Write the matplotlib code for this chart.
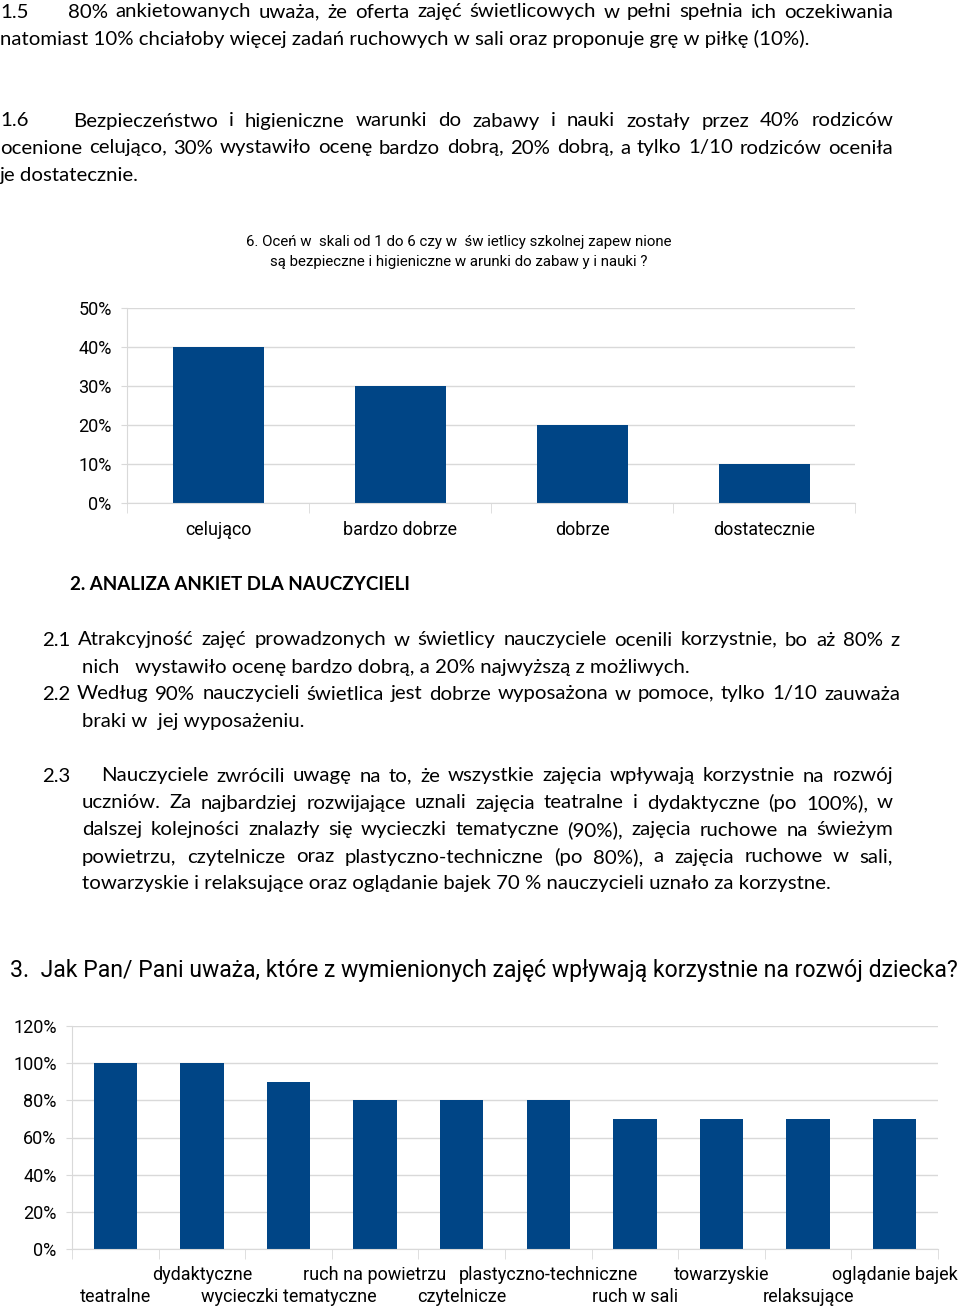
import matplotlib
matplotlib.use("agg")
import matplotlib.pyplot as plt
from matplotlib.ticker import FixedLocator

W, H = 960, 1307
BAR = "#004586"
GRID = "#d9d9d9"
CHART_FONT = ["Roboto", "DejaVu Sans"]
BODY_FONT = ["Lato", "DejaVu Sans"]

# question 6 (parents)
Q6_TITLE = ["6. Oceń w  skali od 1 do 6 czy w  św ietlicy szkolnej zapew nione",
            "są bezpieczne i higieniczne w arunki do zabaw y i nauki ?"]
Q6_CATS = ["celująco", "bardzo dobrze", "dobrze", "dostatecznie"]
Q6_VALUES = [40, 30, 20, 10]
Q6_TICKS = [0, 10, 20, 30, 40, 50]

# question 3 (teachers)
Q3_TITLE = "3.  Jak Pan/ Pani uważa, które z wymienionych zajęć wpływają korzystnie na rozwój dziecka?"
Q3_CATS = ["teatralne", "dydaktyczne", "wycieczki tematyczne", "ruch na powietrzu",
           "czytelnicze", "plastyczno-techniczne", "ruch w sali", "towarzyskie",
           "relaksujące", "oglądanie bajek"]
Q3_VALUES = [100, 100, 90, 80, 80, 80, 70, 70, 70, 70]
Q3_TICKS = [0, 20, 40, 60, 80, 100, 120]

# body text: (text, x start, y, x end for justified lines or None)
BODY = [
    ("1.5", 0, 12, None),
    ("80% ankietowanych uważa, że oferta zajęć świetlicowych w pełni spełnia ich oczekiwania", 68, 12, 893),
    ("natomiast 10% chciałoby więcej zadań ruchowych w sali oraz proponuje grę w piłkę (10%).", 0, 39, None),
    ("1.6", 0, 121, None),
    ("Bezpieczeństwo i higieniczne warunki do zabawy i nauki zostały przez 40% rodziców", 73, 121, 893),
    ("ocenione celująco, 30% wystawiło ocenę bardzo dobrą, 20% dobrą, a tylko 1/10 rodziców oceniła", 0, 148, 893),
    ("je dostatecznie.", 0, 175, None),
    ("2.1 Atrakcyjność zajęć prowadzonych w świetlicy nauczyciele ocenili korzystnie, bo aż 80% z", 42, 640, 900),
    ("nich   wystawiło ocenę bardzo dobrą, a 20% najwyższą z możliwych.", 82, 667, None),
    ("2.2 Według 90% nauczycieli świetlica jest dobrze wyposażona w pomoce, tylko 1/10 zauważa", 42, 694, 900),
    ("braki w  jej wyposażeniu.", 82, 721, None),
    ("2.3", 42, 776, None),
    ("Nauczyciele zwrócili uwagę na to, że wszystkie zajęcia wpływają korzystnie na rozwój", 101, 776, 893),
    ("uczniów. Za najbardziej rozwijające uznali zajęcia teatralne i dydaktyczne (po 100%), w", 82, 803, 893),
    ("dalszej kolejności znalazły się wycieczki tematyczne (90%), zajęcia ruchowe na świeżym", 82, 830, 893),
    ("powietrzu, czytelnicze oraz plastyczno-techniczne (po 80%), a zajęcia ruchowe w sali,", 82, 857, 893),
    ("towarzyskie i relaksujące oraz oglądanie bajek 70 % nauczycieli uznało za korzystne.", 82, 884, None),
]
HEADING = "2. ANALIZA ANKIET DLA NAUCZYCIELI"


def px_axes(fig, left, top, right, bottom):
    """Axes placed by pixel box on the page."""
    return fig.add_axes([left / W, 1 - bottom / H, (right - left) / W, (bottom - top) / H])


def style_chart(ax, ticks, n, fs):
    ax.set_ylim(ticks[0], ticks[-1])
    ax.set_xlim(-0.5, n - 0.5)
    ax.set_yticks(ticks)
    ax.set_yticklabels([f"{t}%" for t in ticks], family=CHART_FONT, fontsize=fs)
    ax.yaxis.grid(True, color=GRID, lw=1)
    ax.set_axisbelow(True)
    for s in ["top", "right"]:
        ax.spines[s].set_visible(False)
    for s in ["left", "bottom"]:
        ax.spines[s].set_color(GRID)
    ax.tick_params(axis="y", length=4, color=GRID, pad=7)
    ax.xaxis.set_minor_locator(FixedLocator([i - 0.5 for i in range(n + 1)]))
    ax.tick_params(axis="x", which="major", length=0)
    ax.tick_params(axis="x", which="minor", length=7, color=GRID)


def put_line(ax, renderer, text, x0, y, x1=None, **kw):
    if x1 is None:
        ax.text(x0, y, text, va="center", ha="left", **kw)
        return
    words = text.split()
    arts = [ax.text(0, y, w, va="center", ha="left", **kw) for w in words]
    widths = [a.get_window_extent(renderer).width for a in arts]
    gap = (x1 - x0 - sum(widths)) / (len(words) - 1)
    x = x0
    for a, w in zip(arts, widths):
        a.set_x(x)
        x += w + gap


fig = plt.figure(figsize=(W / 100, H / 100), dpi=100)

# chart 1
ax1 = px_axes(fig, 127, 308, 855, 503)
ax1.bar(range(len(Q6_CATS)), Q6_VALUES, width=0.5, color=BAR, zorder=2)
style_chart(ax1, Q6_TICKS, len(Q6_CATS), 13)
ax1.set_xticks(range(len(Q6_CATS)))
ax1.set_xticklabels(Q6_CATS, family=CHART_FONT, fontsize=12.9)
ax1.tick_params(axis="x", which="major", pad=13)

# chart 2: labels staggered on two rows
ax2 = px_axes(fig, 72, 1026, 938, 1249)
ax2.bar(range(len(Q3_CATS)), Q3_VALUES, width=0.5, color=BAR, zorder=2)
style_chart(ax2, Q3_TICKS, len(Q3_CATS), 13)
ax2.set_xticks(range(len(Q3_CATS)))
ax2.set_xticklabels([c if i % 2 else "" for i, c in enumerate(Q3_CATS)],
                    family=CHART_FONT, fontsize=13)
ax2.tick_params(axis="x", which="major", pad=12)
for i, c in enumerate(Q3_CATS):
    if i % 2 == 0:
        ax2.annotate(c, (i, 0), xycoords=("data", "axes fraction"),
                     xytext=(0, -28), textcoords="offset points",
                     ha="center", va="top", family=CHART_FONT, fontsize=13)

# page text overlay in pixel coordinates
tx = fig.add_axes([0, 0, 1, 1])
tx.set_xlim(0, W)
tx.set_ylim(H, 0)
tx.axis("off")
r = fig.canvas.get_renderer()
for text, x0, y, x1 in BODY:
    put_line(tx, r, text, x0, y, x1, family=BODY_FONT, fontsize=14.7)
tx.text(70, 585, HEADING, va="center", ha="left", family=BODY_FONT, fontsize=13.5, fontweight="bold")
for i, line in enumerate(Q6_TITLE):
    tx.text(459, 242 + 20 * i, line, va="center", ha="center", family=CHART_FONT, fontsize=10.8)
tx.text(10, 971, Q3_TITLE, va="center", ha="left", family=CHART_FONT, fontsize=16.6)

fig.savefig("out.png", dpi=100)
